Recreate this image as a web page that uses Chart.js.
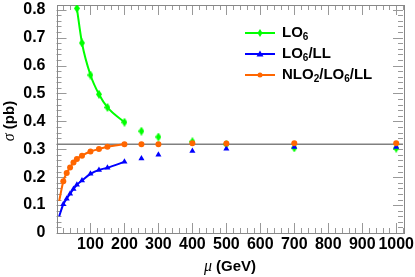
<!DOCTYPE html>
<html>
<head>
<meta charset="utf-8">
<script src="https://cdn.jsdelivr.net/npm/chart.js@4/dist/chart.umd.min.js"></script>
<style>
html, body { margin: 0; padding: 0; background: #fff; }
#wrap { width: 415px; height: 277px; }
</style>
</head>
<body>
<div id="wrap"><canvas id="sigmaChart"></canvas></div>
<script>
// mu values (GeV)
const muCurve = [20, 30, 40, 50, 60, 75, 100, 125, 150, 200];
const muHigh = [250, 300, 400, 500, 700, 1000];
const muLO = [60, 75, 100, 125, 150, 200];

// sigma (pb)
const sigmaLO = [0.805, 0.681, 0.566, 0.497, 0.450, 0.397];
const sigmaLOHigh = [0.365, 0.344, 0.327, 0.318, 0.305, 0.304];
const sigmaLL = [0.103, 0.123, 0.141, 0.158, 0.173, 0.188, 0.212, 0.226, 0.234, 0.255];
const sigmaLLHigh = [0.267, 0.280, 0.294, 0.302, 0.308, 0.308];
const sigmaNLO = [0.185, 0.215, 0.235, 0.253, 0.265, 0.277, 0.292, 0.301, 0.309, 0.318];
const sigmaNLOHigh = [0.318, 0.318, 0.322, 0.321, 0.322, 0.322];

// where the fitted curves start
const curveStartMu = 8;
const curveStartLL = 0.060;
const curveStartNLO = 0.115;

const refSigma = 0.318;

const xTicks = [100, 200, 300, 400, 500, 600, 700, 800, 900, 1000];
const yTicks = [0, 0.1, 0.2, 0.3, 0.4, 0.5, 0.6, 0.7, 0.8];
const seriesNames = ['LO₆', 'LO₆/LL', 'NLO₂/LO₆/LL'];

const GREEN = '#00ff00';
const BLUE = '#0000ff';
const ORANGE = '#ff6600';
const FONT = '"Liberation Sans", Arial, sans-serif';

function pairs(xs, ys) {
    return xs.map((x, i) => ({ x: x, y: ys[i] }));
}

// tall diamond marker like the ROOT one
function diamondMarker(w, h, color) {
    const c = document.createElement('canvas');
    c.width = w; c.height = h;
    const g = c.getContext('2d');
    g.fillStyle = color;
    g.beginPath();
    g.moveTo(w / 2, 0);
    g.lineTo(w, h / 2);
    g.lineTo(w / 2, h);
    g.lineTo(0, h / 2);
    g.closePath();
    g.fill();
    return c;
}
const greenDiamond = diamondMarker(6, 9, GREEN);

// ticks inside the frame on all four sides
const frameTicks = {
    id: 'frameTicks',
    beforeDatasetsDraw(chart) {
        const { ctx, chartArea: a, scales: { x, y } } = chart;
        ctx.save();
        ctx.strokeStyle = '#999';
        ctx.lineWidth = 1;
        ctx.beginPath();
        for (let v = 0; v <= 1020; v += 20) {
            const px = Math.round(x.getPixelForValue(v)) + 0.5;
            const len = v % 100 === 0 ? 10 : 5;
            ctx.moveTo(px, a.bottom); ctx.lineTo(px, a.bottom - len);
            ctx.moveTo(px, a.top); ctx.lineTo(px, a.top + len);
        }
        for (let i = 0; i <= 40; i++) {
            const v = i * 0.02;
            const py = Math.round(y.getPixelForValue(v)) + 0.5;
            const len = i % 5 === 0 ? 10 : 5;
            ctx.moveTo(a.left, py); ctx.lineTo(a.left + len, py);
            ctx.moveTo(a.right, py); ctx.lineTo(a.right - len, py);
        }
        ctx.stroke();
        ctx.strokeStyle = '#888';
        ctx.strokeRect(Math.round(a.left) + 0.5, Math.round(a.top) + 0.5,
            Math.round(a.right - a.left), Math.round(a.bottom - a.top));
        ctx.restore();
    }
};

// text with unicode subscripts drawn smaller and lower
function drawSubText(ctx, text, x, y) {
    const subs = '₀₁₂₃₄₅₆₇₈₉';
    let cx = x;
    for (const ch of text) {
        const k = subs.indexOf(ch);
        if (k >= 0) {
            ctx.font = 'bold 10px ' + FONT;
            ctx.fillText(String(k), cx, y + 4);
            cx += ctx.measureText(String(k)).width;
        } else {
            ctx.font = 'bold 15px ' + FONT;
            ctx.fillText(ch, cx, y);
            cx += ctx.measureText(ch).width;
        }
    }
}

const legendAndTitles = {
    id: 'legendAndTitles',
    afterDraw(chart) {
        const ctx = chart.ctx;
        const colors = [GREEN, BLUE, ORANGE];
        const rows = [33, 54, 75];
        ctx.save();
        ctx.textBaseline = 'middle';
        rows.forEach((ry, i) => {
            ctx.strokeStyle = colors[i];
            ctx.lineWidth = 2;
            ctx.beginPath();
            ctx.moveTo(245, ry); ctx.lineTo(275, ry);
            ctx.stroke();
            ctx.fillStyle = colors[i];
            ctx.beginPath();
            if (i === 0) {
                ctx.moveTo(260, ry - 4); ctx.lineTo(262.5, ry); ctx.lineTo(260, ry + 4); ctx.lineTo(257.5, ry);
            } else if (i === 1) {
                ctx.moveTo(260, ry - 3.5); ctx.lineTo(263.5, ry + 2.5); ctx.lineTo(256.5, ry + 2.5);
            } else {
                ctx.arc(260, ry, 2.5, 0, Math.PI * 2);
            }
            ctx.fill();
            ctx.fillStyle = '#000';
            drawSubText(ctx, seriesNames[i], 282, ry);
        });

        // x axis title
        ctx.fillStyle = '#000';
        ctx.textAlign = 'left';
        ctx.font = 'italic 16px "Liberation Serif", serif';
        const wMu = ctx.measureText('μ').width;
        ctx.font = 'bold 15px ' + FONT;
        const wGev = ctx.measureText(' (GeV)').width;
        let sx = 230 - (wMu + wGev) / 2;
        ctx.font = 'italic 16px "Liberation Serif", serif';
        ctx.fillText('μ', sx, 267);
        ctx.font = 'bold 15px ' + FONT;
        ctx.fillText(' (GeV)', sx + wMu, 267);

        // y axis title
        ctx.translate(10, 121);
        ctx.rotate(-Math.PI / 2);
        ctx.font = 'italic 16px "Liberation Serif", serif';
        const wSig = ctx.measureText('σ').width;
        ctx.font = 'bold 15px ' + FONT;
        const wPb = ctx.measureText(' (pb)').width;
        sx = -(wSig + wPb) / 2;
        ctx.font = 'italic 16px "Liberation Serif", serif';
        ctx.fillText('σ', sx, 0);
        ctx.font = 'bold 15px ' + FONT;
        ctx.fillText(' (pb)', sx + wSig, 0);
        ctx.restore();
    }
};

const curveStyle = {
    showLine: true,
    pointRadius: 0,
    borderWidth: 2,
    cubicInterpolationMode: 'monotone',
    fill: false
};

const ctx = document.getElementById('sigmaChart').getContext('2d');
const sigmaChart = new Chart(ctx, {
    type: 'scatter',
    data: {
        datasets: [
            {
                label: 'NLO markers',
                data: pairs(muCurve.concat(muHigh), sigmaNLO.concat(sigmaNLOHigh)),
                pointStyle: 'circle',
                pointRadius: 3,
                backgroundColor: ORANGE,
                borderColor: ORANGE,
                borderWidth: 0
            },
            {
                label: 'LL markers',
                data: pairs(muCurve.concat(muHigh), sigmaLL.concat(sigmaLLHigh)),
                pointStyle: 'triangle',
                pointRadius: 3.5,
                backgroundColor: BLUE,
                borderColor: BLUE,
                borderWidth: 0
            },
            {
                label: 'LO markers',
                data: pairs(muLO.concat(muHigh), sigmaLO.concat(sigmaLOHigh)),
                pointStyle: greenDiamond,
                backgroundColor: GREEN,
                borderColor: GREEN
            },
            Object.assign({
                label: seriesNames[2],
                data: [{ x: curveStartMu, y: curveStartNLO }].concat(pairs(muCurve, sigmaNLO)),
                borderColor: ORANGE
            }, curveStyle),
            Object.assign({
                label: seriesNames[1],
                data: [{ x: curveStartMu, y: curveStartLL }].concat(pairs(muCurve, sigmaLL)),
                borderColor: BLUE
            }, curveStyle),
            Object.assign({
                label: seriesNames[0],
                data: pairs(muLO, sigmaLO),
                borderColor: GREEN
            }, curveStyle),
            {
                label: 'reference',
                data: [{ x: 0, y: refSigma }, { x: 1020, y: refSigma }],
                showLine: true,
                pointRadius: 0,
                borderColor: '#808080',
                borderWidth: 1.5
            }
        ]
    },
    options: {
        responsive: true,
        maintainAspectRatio: false,
        animation: false,
        layout: {
            padding: { left: 0, right: 12, top: 3, bottom: 0 }
        },
        scales: {
            x: {
                type: 'linear',
                min: 0,
                max: 1020,
                grid: { display: false, drawTicks: false },
                border: { display: false },
                afterBuildTicks: (scale) => {
                    scale.ticks = xTicks.map(v => ({ value: v }));
                },
                afterFit: (scale) => {
                    scale.height = 44;
                    scale.paddingLeft = 0;
                    scale.paddingRight = 0;
                },
                ticks: {
                    color: '#000',
                    padding: 2,
                    maxRotation: 0,
                    autoSkip: false,
                    callback: (v) => String(v),
                    font: { family: FONT, size: 16, weight: 'bold' }
                }
            },
            y: {
                type: 'linear',
                min: 0,
                max: 0.817,
                grid: { display: false, drawTicks: false },
                border: { display: false },
                afterBuildTicks: (scale) => {
                    scale.ticks = yTicks.map(v => ({ value: v }));
                },
                afterFit: (scale) => {
                    scale.width = 56.5;
                    scale.paddingTop = 0;
                    scale.paddingBottom = 0;
                },
                ticks: {
                    color: '#000',
                    padding: 11,
                    callback: (v) => v === 0 ? '0' : v.toFixed(1),
                    font: { family: FONT, size: 16, weight: 'bold' }
                }
            }
        },
        plugins: {
            legend: { display: false },
            tooltip: { enabled: false }
        }
    },
    plugins: [frameTicks, legendAndTitles]
});
</script>
</body>
</html>
